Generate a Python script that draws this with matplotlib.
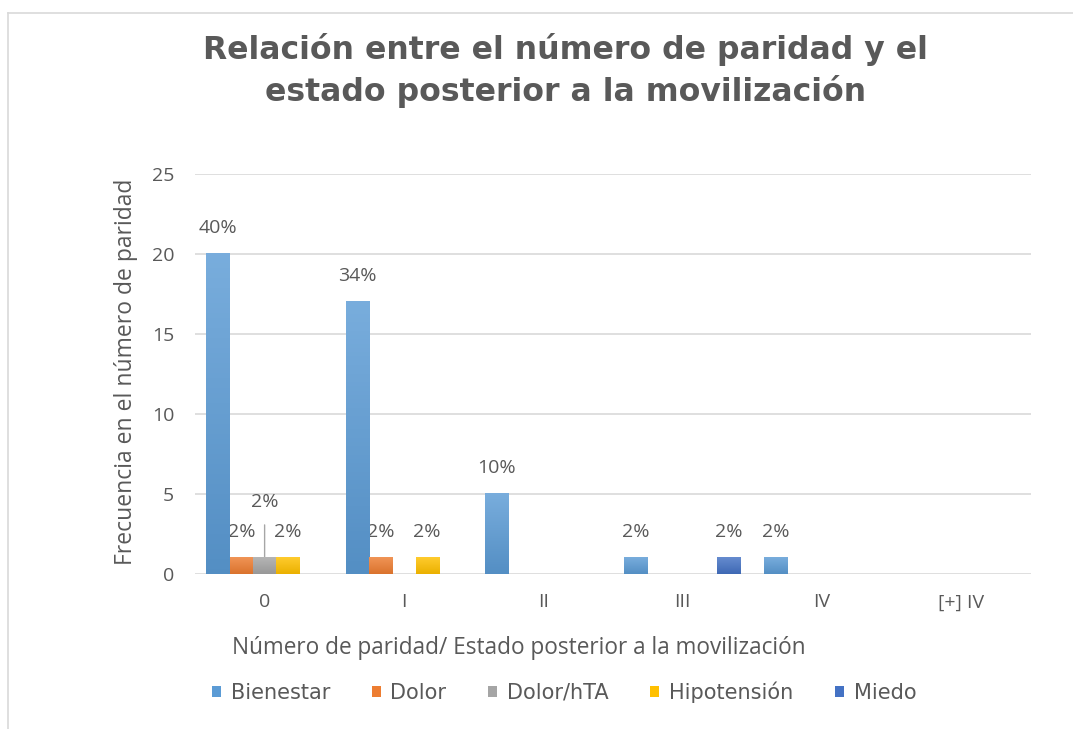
import numpy as np
import matplotlib
matplotlib.use("Agg")
import matplotlib.pyplot as plt
from matplotlib.colors import to_rgb
from matplotlib.lines import Line2D

plt.rcParams['font.family'] = ['Open Sans', 'DejaVu Sans']

categories = ["0", "I", "II", "III", "IV", "[+] IV"]
series = ["Bienestar", "Dolor", "Dolor/hTA", "Hipotensión", "Miedo"]
bienestar = [20, 17, 5, 1, 1, 0]
dolor = [1, 1, 0, 0, 0, 0]
dolor_hta = [1, 0, 0, 0, 0, 0]
hipotension = [1, 1, 0, 0, 0, 0]
miedo = [0, 0, 0, 1, 0, 0]
colors = ["#5B9BD5", "#ED7D31", "#A5A5A5", "#FFC000", "#4472C4"]

values = [bienestar, dolor, dolor_hta, hipotension, miedo]
total = sum(sum(v) for v in values)
text_color = "#595959"


def shade(c, f):
    r = np.array(to_rgb(c))
    if f > 0:
        return r + (1 - r) * f
    return r * (1 + f)


fig = plt.figure(figsize=(10.73, 7.29), dpi=100)
ax = fig.add_axes([0.1817, 0.2126, 0.779, 0.5487])

x = np.arange(len(categories))
width = 0.167
for i, (name, vals, col) in enumerate(zip(series, values, colors)):
    offs = (i - 2) * width
    bars = ax.bar(x + offs, vals, width, color=col, label=name, zorder=3)
    for b, v in zip(bars, vals):
        if v == 0:
            continue
        # vertical gradient, lighter at top
        grad = np.linspace(0, 1, 64).reshape(-1, 1)
        top, bot = shade(col, 0.18), shade(col, -0.08)
        img = bot[None, None, :] * (1 - grad[..., None]) + top[None, None, :] * grad[..., None]
        ax.imshow(img, extent=[b.get_x(), b.get_x() + b.get_width(), 0, b.get_height()],
                  origin="lower", aspect="auto", zorder=4)
        pct = f"{round(v / total * 100)}%"
        bx = b.get_x() + b.get_width() / 2
        if name == "Dolor/hTA":
            ax.annotate(pct, xy=(bx, v), xytext=(bx, v + 3.5), ha="center", va="center",
                        fontsize=14, color=text_color,
                        arrowprops=dict(arrowstyle="-", color="#A6A6A6", lw=1,
                                        shrinkA=8, shrinkB=0))
        else:
            ax.text(bx, v + 1.6, pct, ha="center", va="center", fontsize=14,
                    color=text_color)

ax.set_xlim(-0.5, len(categories) - 0.5)
ax.set_ylim(0, 25)
ax.set_yticks(range(0, 26, 5))
ax.set_xticks(x)
ax.set_xticklabels(categories)
ax.tick_params(length=0, labelsize=14, labelcolor=text_color)
ax.tick_params(axis="x", pad=14)
ax.tick_params(axis="y", pad=15)
ax.grid(axis="y", color="#D9D9D9", lw=1.2, zorder=0)
for s in ax.spines.values():
    s.set_visible(False)

ax.set_ylabel("Frecuencia en el número de paridad", fontsize=16.5, color=text_color)
ax.yaxis.set_label_coords(-0.0825, 0.505)
ax.yaxis.label.set_va("center")
ax.set_xlabel("Número de paridad/ Estado posterior a la movilización", fontsize=16.3,
              color=text_color)
ax.xaxis.set_label_coords(0.3876, -0.185)
ax.xaxis.label.set_va("center")

title_lines = ["Relación entre el número de paridad y el",
               "estado posterior a la movilización"]
for line, yy in zip(title_lines, [1 - 50 / 729, 1 - 92 / 729]):
    fig.text(0.527, yy, line, ha="center", va="center", fontsize=22.7,
             fontweight="bold", color=text_color, family="DejaVu Sans")

fig.legend(*ax.get_legend_handles_labels(), loc="center",
           bbox_to_anchor=(564 / 1073, 1 - 692 / 729), ncol=5, frameon=False,
           prop={"family": "DejaVu Sans", "size": 15}, labelcolor=text_color,
           handlelength=0.45, handleheight=0.45, handletextpad=0.45,
           columnspacing=2.0)

fig.add_artist(Line2D([0.0075, 0.0075], [0, 0.982], color="#D9D9D9", lw=1.2))
fig.add_artist(Line2D([0.0075, 1.0], [0.982, 0.982], color="#D9D9D9", lw=1.2))

fig.savefig("out.png", dpi=100, facecolor="white")
